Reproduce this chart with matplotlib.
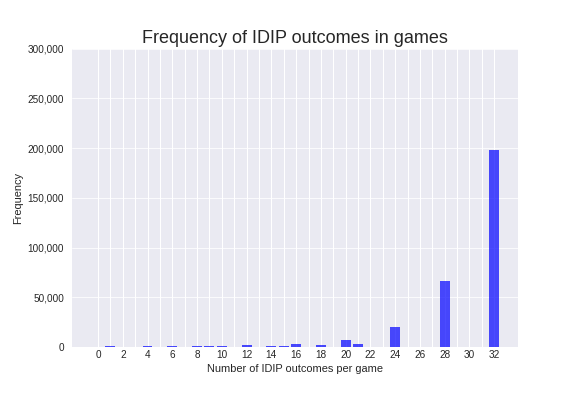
import matplotlib
matplotlib.use("Agg")
import matplotlib.pyplot as plt
from matplotlib.ticker import FuncFormatter, FixedLocator

plt.style.use("seaborn-v0_8-darkgrid")
plt.rcParams["font.family"] = ["Liberation Sans", "DejaVu Sans"]

outcomes = [1, 4, 6, 8, 9, 10, 12, 14, 15, 16, 18, 20, 21, 24, 28, 32]
frequency = [800, 700, 800, 900, 900, 900, 1800, 800, 900, 2800, 1800, 6800, 3200, 20000, 65800, 197800]
xtick_values = list(range(0, 33, 2))
minor_values = list(range(1, 32, 2))

fig = plt.figure(figsize=(8, 5.5), dpi=72)
ax = fig.add_subplot(111)
fig.subplots_adjust(left=0.125, right=0.9, bottom=0.124, top=0.877)

ax.bar(outcomes, frequency, width=0.8, color="b", alpha=0.7)
ax.set_xticks(xtick_values)
ax.xaxis.set_minor_locator(FixedLocator(minor_values))
ax.grid(True, which="both", axis="x", color="white", linewidth=1)
ax.set_xlim(-2.1, 33.95)
ax.set_ylim(0, 300000)
ax.set_yticks(range(0, 300001, 50000))
ax.yaxis.set_major_formatter(FuncFormatter(lambda v, p: f"{int(v):,}"))
ax.tick_params(labelsize=10)
ax.tick_params(axis="y", pad=8)
ax.set_xlabel("Number of IDIP outcomes per game", fontsize=11)
ax.set_ylabel("Frequency", fontsize=11)
ax.set_title("Frequency of IDIP outcomes in games", fontsize=18)

fig.savefig("out.png", dpi=72)
